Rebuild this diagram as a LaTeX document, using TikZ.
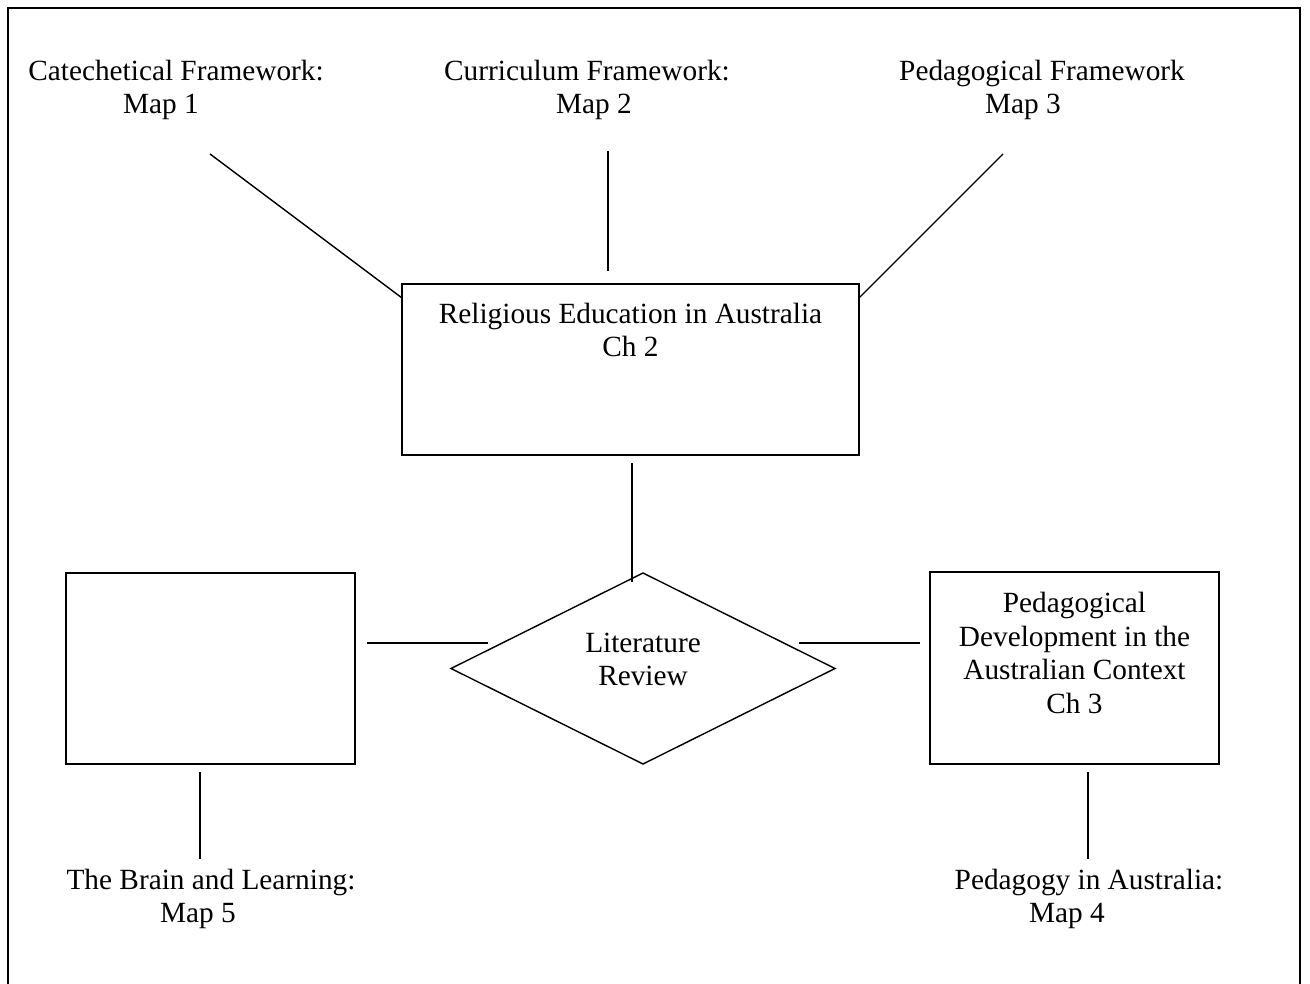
\documentclass[tikz,border=0pt]{standalone}
\usepackage{fontspec}
\setmainfont{Liberation Serif}
\usetikzlibrary{shapes.geometric,calc}
\begin{document}
\begin{tikzpicture}[x=1pt,y=-1pt,
  txt/.style={inner sep=0pt, align=center, font=\fontsize{29.3}{33.7}\selectfont},
  box/.style={draw, line width=1.8pt, inner sep=0pt, outer sep=0pt},
  conn/.style={line width=1.4pt},
  frame/.style={line width=2.2pt}]
\useasboundingbox (0,0) rectangle (1310,984);
% outer frame, open at the bottom edge of the page
\draw[frame] (8,1000) -- (8,8) -- (1300,8) -- (1300,1000);

% map labels along the top
\node[txt] (cat) at (176,90) {Catechetical Framework:\\Map 1\hspace*{30pt}};
\node[txt] (cur) at (587,90) {Curriculum Framework:\\\hspace*{14pt}Map 2};
\node[txt] (ped) at (1042,90) {Pedagogical Framework\\Map 3\hspace*{38pt}};

% chapter 2 box
\node[box, minimum width=457pt, minimum height=171pt] (re) at (630.5,369.5) {};
\node[txt] (retext) at (630.5,330) {Religious Education in Australia\\Ch 2};

% middle row
\node[box, minimum width=289pt, minimum height=191pt] (lbox) at (210.5,668.5) {};
\node[draw, diamond, line width=1.4pt, minimum width=384pt, minimum height=191pt,
      inner sep=0pt, outer sep=0pt] (lit) at (643,668.5) {};
\node[txt] (littext) at (643,659.5) {Literature\\Review};
\node[box, minimum width=289pt, minimum height=192pt] (rbox) at (1074.5,668) {};
\node[txt] (rtext) at (1074.5,653) {Pedagogical\\Development in the\\Australian Context\\Ch 3};

% map labels along the bottom
\node[txt] (brain) at (211,899) {The Brain and Learning:\\Map 5\hspace*{26pt}};
\node[txt] (pa) at (1089,899) {Pedagogy in Australia:\\Map 4\hspace*{44pt}};

% connectors
\draw[conn] ($(cat.center)+(34,64)$) -- ($(re.north west)+(0,14)$);
\draw[conn] ($(cur.center)+(21,61)$) -- ($(re.north)+(-22.5,-13)$);
\draw[conn] ($(ped.center)+(-39,64)$) -- ($(re.north east)+(0,14)$);
\draw[conn] ($(re.south)+(1.5,8)$) -- ($(lit.north)+(-11,9)$);
\draw[conn] ($(lbox.east)+(12,-25.5)$) -- ($(lit.west)+(37,-25.5)$);
\draw[conn] ($(lit.east)+(-36,-25.5)$) -- ($(rbox.west)+(-10,-25)$);
\draw[conn] ($(lbox.south)+(-10.5,8)$) -- ($(brain.center)+(-11,-40)$);
\draw[conn] ($(rbox.south)+(13.5,8)$) -- ($(pa.center)+(-1,-40)$);
\end{tikzpicture}
\end{document}
